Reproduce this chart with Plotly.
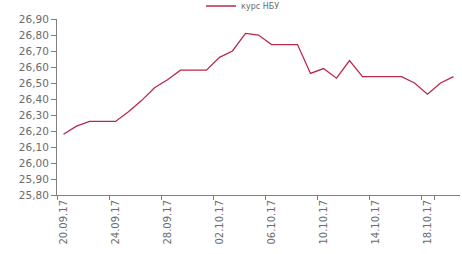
import plotly.graph_objects as go

dates = ["20.09.17","21.09.17","22.09.17","23.09.17","24.09.17","25.09.17","26.09.17","27.09.17",
         "28.09.17","29.09.17","30.09.17","01.10.17","02.10.17","03.10.17","04.10.17","05.10.17",
         "06.10.17","07.10.17","08.10.17","09.10.17","10.10.17","11.10.17","12.10.17","13.10.17",
         "14.10.17","15.10.17","16.10.17","17.10.17","18.10.17","19.10.17","20.10.17"]
rate = [26.18, 26.23, 26.26, 26.26, 26.26, 26.32, 26.39, 26.47,
        26.52, 26.58, 26.58, 26.58, 26.66, 26.70, 26.81, 26.80,
        26.74, 26.74, 26.74, 26.56, 26.59, 26.53, 26.64, 26.54,
        26.54, 26.54, 26.54, 26.50, 26.43, 26.50, 26.54]
series_name = "курс НБУ"
y_ticks = [25.8 + 0.1 * i for i in range(12)]
y_labels = [f"{v:.2f}".replace(".", ",") for v in y_ticks]

fig = go.Figure()
fig.add_trace(go.Scatter(x=dates, y=rate, mode="lines", name=series_name,
                         line=dict(color="#b8284a", width=1.3)))

fig.update_layout(
    width=462, height=254,
    margin=dict(l=57, r=2, t=19, b=59, autoexpand=False),
    paper_bgcolor="white", plot_bgcolor="white",
    font=dict(family="DejaVu Sans", size=10, color="#6b6b6b"),
    showlegend=True,
    legend=dict(orientation="h", x=0.3575, xanchor="left", y=1.074, yanchor="middle",
                font=dict(size=8, color="#6b6b6b"), bgcolor="rgba(0,0,0,0)",
                itemwidth=30, tracegroupgap=0, borderwidth=0),
)
fig.update_xaxes(type="category", range=[-0.5, len(dates) - 0.5], tickmode="array",
                 tickvals=dates[::4], ticktext=dates[::4], tickson="boundaries",
                 tickangle=-90, ticks="outside", ticklen=4, tickcolor="#808080",
                 showline=True, linecolor="#808080", linewidth=1, showgrid=False,
                 zeroline=False, tickfont=dict(size=10), automargin=False)
fig.update_yaxes(range=[25.8, 26.9], tickmode="array", tickvals=y_ticks, ticktext=y_labels,
                 ticks="outside", ticklen=5, tickcolor="#808080",
                 showline=True, linecolor="#808080", linewidth=1, showgrid=False,
                 zeroline=False, tickfont=dict(size=10.5), automargin=False)

fig.write_html("out.html", config={"displayModeBar": False},
               post_script="document.body.style.margin='0';document.documentElement.style.margin='0';")
